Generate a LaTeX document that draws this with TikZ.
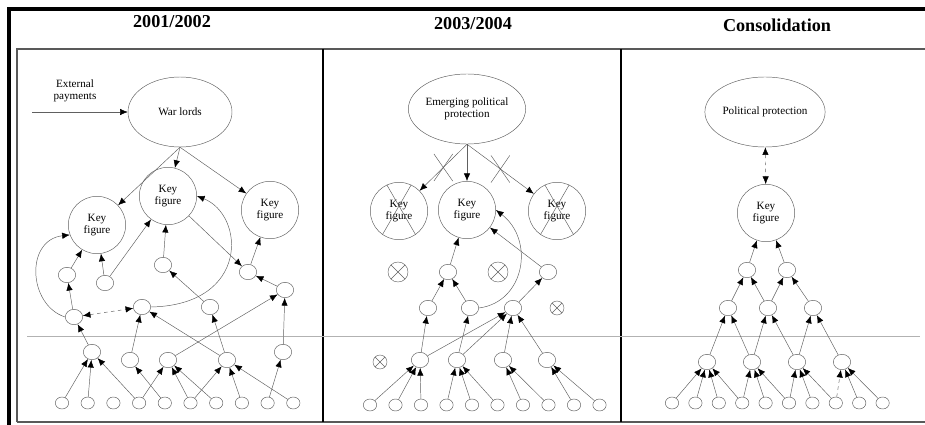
\documentclass[tikz,border=0pt]{standalone}
\usepackage{fontspec}
\setmainfont{Liberation Serif}
\usetikzlibrary{shapes,positioning,arrows.meta}

\tikzset{
  big/.style={draw=gray!75!black, ellipse, minimum width=3.1cm, minimum height=2.1cm, align=center, inner sep=0pt, font=\fontsize{9.5}{10}\selectfont},
  key/.style={draw=gray!75!black, circle, minimum size=1.72cm, align=center, inner sep=0pt, font=\fontsize{9.5}{10}\selectfont},
  dot/.style={draw=gray!75!black, ellipse, minimum width=0.52cm, minimum height=0.46cm, inner sep=0pt},
  leaf/.style={draw=gray!75!black, ellipse, minimum width=0.40cm, minimum height=0.36cm, inner sep=0pt},
  gone/.style={draw=gray!75!black, circle, minimum size=#1, inner sep=0pt,
    path picture={\draw[gray!75!black] (path picture bounding box.north west) -- (path picture bounding box.south east)
      (path picture bounding box.north east) -- (path picture bounding box.south west);}},
  tip/.tip={Latex[length=2.3mm, width=1.9mm, color=black]},
  link/.style={draw=gray!75!black, -tip},
  twoway/.style={draw=gray!75!black, tip-tip, dashed},
  cut/.style={cross out, draw=gray!75!black, minimum width=0.55cm, minimum height=0.8cm, inner sep=0pt},
  title/.style={font=\fontsize{15.5}{16}\selectfont\bfseries},
}

\begin{document}
\begin{tikzpicture}[x=0.03cm, y=-0.03cm]
  \useasboundingbox (0,0) rectangle (925,425);

  % frame
  \draw[line width=2.6pt] (9,425) -- (9,9) -- (925,9);
  \draw[gray!70!black, line width=1.2pt] (17,422) -- (17,49) -- (925,49);
  \draw[gray!70!black, line width=1.2pt] (17,422) -- (925,422);
  \draw[line width=1.6pt] (323,49) -- (323,422);
  \draw[line width=1.6pt] (621,49) -- (621,422);
  \draw[gray!60] (27,336) -- (920,336);

  \node[title] (ta) at (172,22) {2001/2002};
  \node[title] (tb) at (473,24) {2003/2004};
  \node[title] (tc) at (777,25) {Consolidation};

  % ---- 2001/2002
  \coordinate (ext) at (32,112);
  \node[align=center, font=\fontsize{9.5}{10.5}\selectfont] (pay) at (75,91) {External\\payments};
  \node[big, minimum width=3.12cm] (wl) at (180,112) {War lords};
  \node[key] (kfa) at (97,225) {Key\\figure};
  \node[key] (kfb) at (168,196) {Key\\figure};
  \node[key] (kfc) at (270,210) {Key\\figure};

  \node[dot] (a1) at (67,275) {};
  \node[dot] (a2) at (105,283) {};
  \node[dot] (a3) at (163,265) {};
  \node[dot] (a4) at (248,272) {};
  \node[dot] (a5) at (285,290) {};
  \node[dot] (a6) at (74,317) {};
  \node[dot] (a7) at (142,307) {};
  \node[dot] (a8) at (210,307) {};
  \node[dot] (a9) at (92,352) {};
  \node[dot] (a10) at (130,360) {};
  \node[dot] (a11) at (168,360) {};
  \node[dot] (a12) at (227,360) {};
  \node[dot] (a13) at (283,352) {};
  \foreach \i in {0,...,9}
    \node[leaf] (la\i) at ({62+25.7*\i},403) {};

  \draw[link] (ext) -- (wl);
  \foreach \k in {kfa,kfb,kfc}
    \draw[link] (wl.south) -- (\k);
  \draw[link] (a1) -- (kfa);
  \draw[link] (a6) -- (a1);
  \draw[link] (a6.west) .. controls (28,305) and (25,240) .. (kfa.200);
  \draw[twoway] (a6) -- (a7);
  \draw[link] (a2) -- (kfa);
  \draw[link] (a2) -- (kfb);
  \draw[link] (a3) -- (kfb);
  \draw[link] (kfb) -- (a4);
  \draw[link] (a8) -- (a3);
  \draw[link] (a5) -- (a4);
  \draw[link] (a4) -- (kfc);
  \draw[link] (a7.east) .. controls (250,305) and (245,215) .. (kfb.east);
  \draw[link] (a9) -- (a6);
  \draw[link] (a10) -- (a7);
  \draw[link] (a12) -- (a7);
  \draw[link] (a12) -- (a8);
  \draw[link] (a11) -- (a5);
  \draw[link] (a13) -- (a5);
  \foreach \j in {0,1,3}
    \draw[link] (la\j) -- (a9);
  \draw[link] (la3) -- (a11);
  \draw[link] (la4) -- (a10);
  \foreach \j in {5,6}
    \draw[link] (la\j) -- (a11);
  \foreach \j in {5,7,9}
    \draw[link] (la\j) -- (a12);
  \draw[link] (la8) -- (a13);

  % ---- 2003/2004
  \node[big, minimum width=3.4cm] (ep) at (467,109) {Emerging political\\protection};
  \node[key] (kfl) at (399,211) {Key\\figure};
  \node[key] (kfm) at (467,210) {Key\\figure};
  \node[key] (kfr) at (557,211) {Key\\figure};
  \draw[gray!75!black] (kfl.115) -- (kfl.-55) (kfl.65) -- (kfl.-125);
  \draw[gray!75!black] (kfr.115) -- (kfr.-55) (kfr.65) -- (kfr.-125);

  \node[gone=0.6cm] (o1) at (398,272) {};
  \node[dot] (m1) at (448,272) {};
  \node[gone=0.6cm] (o2) at (498,272) {};
  \node[dot] (m2) at (548,272) {};
  \node[dot] (m3) at (428,308) {};
  \node[dot] (m4) at (470,308) {};
  \node[dot] (m5) at (513,308) {};
  \node[gone=0.42cm] (o3) at (557,308) {};
  \node[gone=0.42cm] (o4) at (380,362) {};
  \node[dot] (m6) at (420,360) {};
  \node[dot] (m7) at (457,360) {};
  \node[dot] (m8) at (503,360) {};
  \node[dot] (m9) at (547,360) {};
  \foreach \i in {0,...,9}
    \node[leaf] (lb\i) at ({370+25.5*\i},405) {};

  \draw[link] (ep.south) -- node[cut, pos=0.5] (xa) {} (kfl);
  \draw[link] (ep.south) -- (kfm);
  \draw[link] (ep.south) -- node[cut, pos=0.5] (xb) {} (kfr);
  \draw[link] (m1) -- (kfm);
  \draw[link] (m2) -- (kfm);
  \draw[link] (m3) -- (m1);
  \draw[link] (m4) -- (m1);
  \draw[link] (m5) -- (m2);
  \draw[link] (m4.east) .. controls (525,302) and (535,240) .. (kfm.east);
  \draw[link] (m6) -- (m3);
  \draw[link] (m6) -- (m5);
  \draw[link] (m7) -- (m4);
  \draw[link] (m7) -- (m5);
  \draw[link] (m8) -- (m5);
  \draw[link] (m9) -- (m5);
  \foreach \j in {0,1,2}
    \draw[link] (lb\j) -- (m6);
  \foreach \j in {3,4,5}
    \draw[link] (lb\j) -- (m7);
  \foreach \j in {6,7}
    \draw[link] (lb\j) -- (m8);
  \foreach \j in {8,9}
    \draw[link] (lb\j) -- (m9);

  % ---- Consolidation
  \node[big, minimum width=3.12cm] (pp) at (765,112) {Political protection};
  \node[key] (kfz) at (766,213) {Key\\figure};
  \node[dot] (r1a) at (747,270) {};
  \node[dot] (r1b) at (787,270) {};
  \node[dot] (r2a) at (728,308) {};
  \node[dot] (r2b) at (768,308) {};
  \node[dot] (r2c) at (813,308) {};
  \node[dot] (r3a) at (707,362) {};
  \node[dot] (r3b) at (752,362) {};
  \node[dot] (r3c) at (797,362) {};
  \node[dot] (r3d) at (842,362) {};
  \foreach \i in {0,...,9}
    \node[leaf] (lc\i) at ({672+23.4*\i},403) {};

  \draw[twoway] (pp) -- (kfz);
  \draw[link] (r1a) -- (kfz);
  \draw[link] (r1b) -- (kfz);
  \draw[link] (r2a) -- (r1a);
  \draw[link] (r2b) -- (r1a);
  \draw[link] (r2b) -- (r1b);
  \draw[link] (r2c) -- (r1b);
  \draw[link] (r3a) -- (r2a);
  \draw[link] (r3b) -- (r2a);
  \draw[link] (r3b) -- (r2b);
  \draw[link] (r3c) -- (r2b);
  \draw[link] (r3c) -- (r2c);
  \draw[link] (r3d) -- (r2c);
  \foreach \j in {0,1,2,3}
    \draw[link] (lc\j) -- (r3a);
  \foreach \j in {3,4,5}
    \draw[link] (lc\j) -- (r3b);
  \foreach \j in {5,6,7}
    \draw[link] (lc\j) -- (r3c);
  \draw[link, dashed] (lc7) -- (r3d);
  \foreach \j in {8,9}
    \draw[link] (lc\j) -- (r3d);
\end{tikzpicture}
\end{document}
